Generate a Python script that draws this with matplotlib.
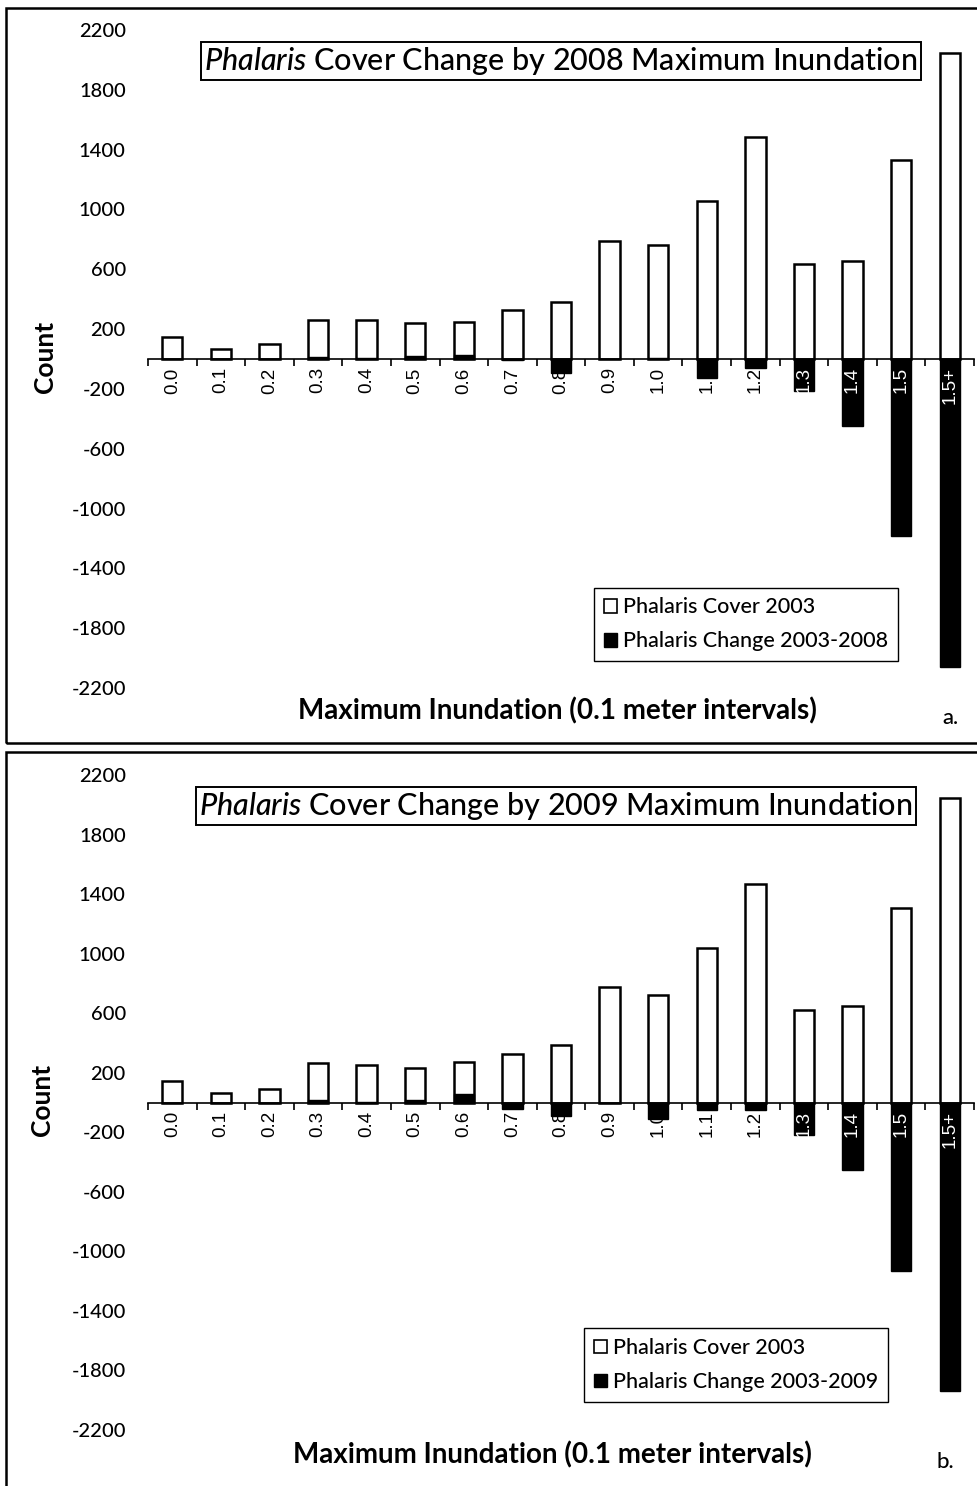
import matplotlib
matplotlib.use("Agg")
import matplotlib.pyplot as plt
from matplotlib.patches import Rectangle, Patch

plt.rcParams["font.family"] = ["Lato", "DejaVu Sans"]
plt.rcParams["axes.unicode_minus"] = False
plt.rcParams["mathtext.fontset"] = "custom"
plt.rcParams["mathtext.it"] = "Lato:italic:medium"
plt.rcParams["mathtext.rm"] = "Lato:medium"

W, H = 977, 1486

categories = ["0.0", "0.1", "0.2", "0.3", "0.4", "0.5", "0.6", "0.7", "0.8",
              "0.9", "1.0", "1.1", "1.2", "1.3", "1.4", "1.5", "1.5+"]

cover_2003 = [150, 67, 100, 263, 263, 241, 245, 330, 383,
              790, 763, 1057, 1485, 635, 655, 1331, 2047]
change_2008 = [0, 0, 0, 15, 5, 20, 25, -10, -94,
               0, 10, -127, -60, -214, -448, -1184, -2060]

cover_2003_b = [145, 65, 94, 262, 255, 233, 269, 329, 385,
                776, 722, 1037, 1467, 621, 648, 1306, 2045]
change_2009 = [0, 0, 0, 20, 5, 15, 54, -47, -92,
               -5, -110, -52, -52, -218, -453, -1132, -1937]

yticks = list(range(-2200, 2201, 400))

panels = [
    dict(cover=cover_2003, change=change_2008, year="2008",
         ax_px=(148, 974, 30, 688), box_px=(6, 8, 990, 743),
         title_xy=(0.5, 0.953), leg_anchor=(0.908, 0.041),
         count_px=(45, 357), xlabel_px=(557, 711), tag="a.", tag_px=(950, 718)),
    dict(cover=cover_2003_b, change=change_2009, year="2009",
         ax_px=(148, 974, 775, 1430), box_px=(6, 752, 990, 1500),
         title_xy=(0.494, 0.953), leg_anchor=(0.896, 0.043),
         count_px=(42, 1100), xlabel_px=(552, 1455), tag="b.", tag_px=(945, 1462)),
]


def fx(px):
    return px / W


def fy(py):
    return 1 - py / H


fig = plt.figure(figsize=(W / 100, H / 100), dpi=100)

for p in panels:
    x0, x1, ytop, ybot = p["ax_px"]
    ax = fig.add_axes([fx(x0), fy(ybot), (x1 - x0) / W, (ybot - ytop) / H])
    x = list(range(len(categories)))

    ax.bar(x, p["cover"], width=0.42, color="white", edgecolor="black",
           linewidth=1.8, zorder=1)
    ax.bar(x, p["change"], width=0.42, color="black", edgecolor="black",
           linewidth=1.0, zorder=1.5)

    ax.set_xlim(-0.5, len(categories) - 0.5)
    ax.set_ylim(-2200, 2200)
    ax.set_yticks(yticks)
    ax.tick_params(axis="y", length=0, pad=16, labelsize=14.5)
    for lbl in ax.get_yticklabels():
        lbl.set_fontweight("medium")

    for s in ["left", "right", "top"]:
        ax.spines[s].set_visible(False)
    ax.spines["bottom"].set_position(("data", 0))
    ax.spines["bottom"].set_linewidth(1.2)
    ax.spines["bottom"].set_zorder(2)

    # tick marks between categories, labels at category centres
    ax.set_xticks([i - 0.5 for i in range(len(categories) + 1)])
    ax.set_xticklabels([])
    ax.tick_params(axis="x", which="major", direction="out", length=5, width=1.2)
    ax.set_xticks(x, minor=True)
    ax.set_xticklabels(categories, minor=True, rotation=90,
                       family=["Liberation Sans", "DejaVu Sans"], fontsize=13.5)
    ax.tick_params(axis="x", which="minor", length=0, pad=6)
    for lbl, ch in zip(ax.get_xticklabels(minor=True), p["change"]):
        lbl.set_color("white" if ch < -150 else "black")
        lbl.set_verticalalignment("top")

    ax.text(p["title_xy"][0], p["title_xy"][1],
            r"$\mathit{Phalaris}$ Cover Change by " + p["year"] + " Maximum Inundation",
            transform=ax.transAxes, ha="center", va="center", fontsize=22,
            fontweight="medium",
            bbox=dict(boxstyle="square,pad=0.1", fc="white", ec="black", lw=1.4),
            zorder=5)

    handles = [Patch(facecolor="white", edgecolor="black", linewidth=1.2),
               Patch(facecolor="black", edgecolor="black")]
    leg = ax.legend(handles, ["Phalaris Cover 2003", "Phalaris Change 2003-" + p["year"]],
                    loc="lower right", bbox_to_anchor=p["leg_anchor"],
                    prop=dict(size=15.5, weight="medium"), fancybox=False,
                    framealpha=1, edgecolor="black",
                    handlelength=0.6, handleheight=0.6, handletextpad=0.3,
                    borderpad=0.45, labelspacing=0.65, borderaxespad=0)
    leg.get_frame().set_linewidth(1.0)

    fig.text(fx(p["count_px"][0]), fy(p["count_px"][1]), "Count", rotation=90,
             ha="center", va="center", fontsize=19, fontweight="bold")
    fig.text(fx(p["xlabel_px"][0]), fy(p["xlabel_px"][1]),
             "Maximum Inundation (0.1 meter intervals)",
             ha="center", va="center", fontsize=20, fontweight="bold")
    fig.text(fx(p["tag_px"][0]), fy(p["tag_px"][1]), p["tag"],
             ha="center", va="center", fontsize=16, fontweight="medium")

    bx0, by0, bx1, by1 = p["box_px"]
    fig.patches.append(Rectangle((fx(bx0), fy(by1)), (bx1 - bx0) / W, (by1 - by0) / H,
                                 transform=fig.transFigure, fill=False,
                                 edgecolor="black", linewidth=1.8))

fig.savefig("out.png", dpi=100)
